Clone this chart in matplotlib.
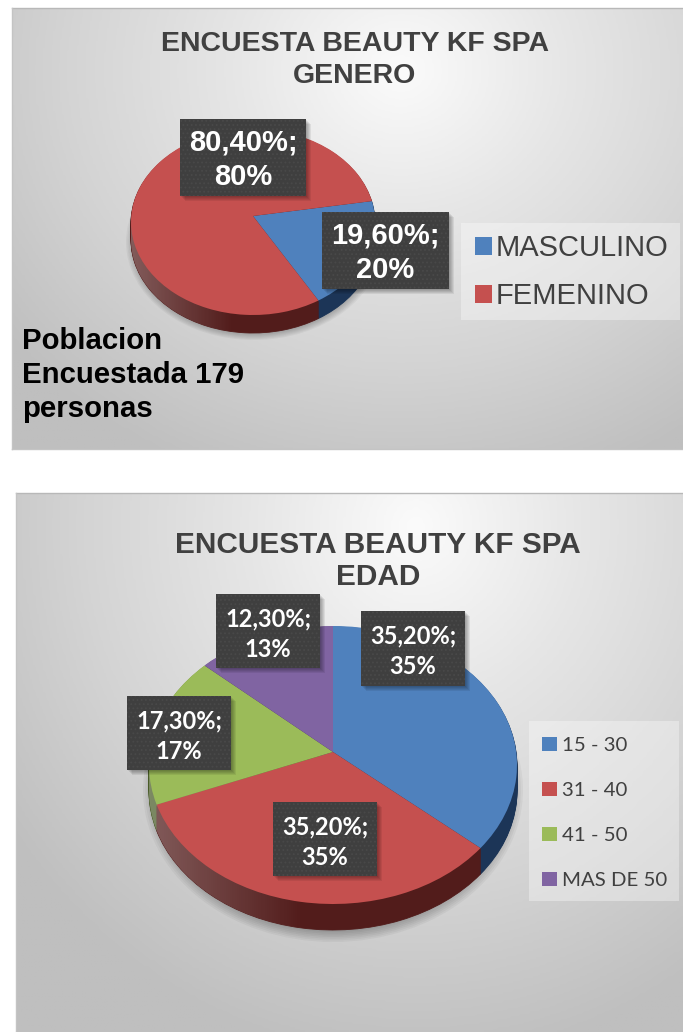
import numpy as np
import matplotlib
matplotlib.use('Agg')
import matplotlib.pyplot as plt
from matplotlib.patches import Rectangle, Ellipse, Polygon
from matplotlib.colors import LinearSegmentedColormap

W, H = 683, 1032

#chart data
genero_cats = ['MASCULINO', 'FEMENINO']
genero_vals = [19.6, 80.4]
genero_labels = ['19,60%;\n20%', '80,40%;\n80%']
edad_cats = ['15 - 30', '31 - 40', '41 - 50', 'MAS DE 50']
edad_vals = [35.2, 35.2, 17.3, 12.3]
edad_labels = ['35,20%;\n35%', '35,20%;\n35%', '17,30%;\n17%', '12,30%;\n13%']
top_colors = ['#4f81bd', '#c5504f', '#9bbb59', '#8064a2']
side_colors = ['#1c3557', '#521c1b', '#4a5c28', '#3e2f52']
title_main = 'ENCUESTA BEAUTY KF SPA'
nota = 'Poblacion\nEncuestada 179\npersonas'

plt.rcParams['hatch.linewidth'] = 0.8
fig = plt.figure(figsize=(W/100, H/100), dpi=100, facecolor='white')

def px_axes(z):
    a = fig.add_axes([0, 0, 1, 1], zorder=z, facecolor='none')
    a.set_xlim(0, W)
    a.set_ylim(H, 0)
    a.axis('off')
    return a

back = px_axes(0)
front = px_axes(5)

#panel background, lightest near the top middle
def panel(x0, x1, y0, y1, fx, fy):
    yy, xx = np.mgrid[0:1:200j, 0:1:200j]
    r = np.clip(np.hypot((xx-fx)/0.75, (yy-fy)/1.0), 0, 1)
    cm = LinearSegmentedColormap.from_list('g', ['#fbfbfb', '#e6e6e6', '#d4d4d4', '#bfbfbf'])
    back.imshow(r, extent=(x0, x1, y1, y0), cmap=cm, vmin=0, vmax=1, aspect='auto', zorder=0)
    back.plot([x0, x1], [y0, y0], color='#b8b8b8', lw=1, zorder=1)
    back.plot([x0, x0], [y0, y1], color='#c4c4c4', lw=1, zorder=1)
    back.plot([x0, x1], [y1, y1], color='#c4c4c4', lw=1, zorder=1)

panel(12, 683, 8, 449, 0.58, 0.14)
panel(16, 683, 493, 1032, 0.6, 0.06)
back.set_xlim(0, W)
back.set_ylim(H, 0)

#fake 3d pie: stacked pies for the side, real one on top
def pie3d(vals, start, cx, cy, rx, ry, depth, lift):
    pad = 4
    a = fig.add_axes([(cx-rx-pad)/W, 1-(cy+ry+depth+pad)/H, (2*rx+2*pad)/W, (2*ry+depth+2*pad)/H], zorder=2, facecolor='none')
    d_norm = depth/ry
    for d in np.linspace(d_norm, d_norm/depth, int(depth)):
        wd, _ = a.pie(vals, startangle=start, counterclock=False, colors=side_colors, center=(0, -d),
                      wedgeprops=dict(lw=0.6))
        for w, c in zip(wd, side_colors):
            w.set_edgecolor(c)
            w.set_zorder(1)
    #lighter side on the left
    t = np.linspace(np.pi, 2*np.pi, 120)
    outline = np.r_[np.c_[np.cos(t), np.sin(t)-d_norm], np.c_[np.cos(t[::-1]), -np.sin(t[::-1])*0]]
    clip = Polygon(outline, closed=True, transform=a.transData, fc='none', ec='none')
    a.add_patch(clip)
    grad = np.zeros((2, 200, 4))
    grad[..., :3] = 1
    grad[..., 3] = np.clip(0.28*(1-np.linspace(0, 1, 200)/0.42), 0, 1)
    im = a.imshow(grad, extent=(-1, 1, -1-d_norm, 1), aspect='auto', zorder=2)
    im.set_clip_path(clip)
    wedges, _ = a.pie(vals, startangle=start, counterclock=False, colors=top_colors, wedgeprops=dict(lw=0))
    for w in wedges:
        w.set_zorder(3)
        p = w.get_path()
        v = p.vertices.copy()
        v[np.hypot(v[:, 0], v[:, 1]) < 1e-6, 1] += lift/ry
        p.vertices = v
    a.set_aspect('auto')
    a.set_xlim(-1-pad/rx, 1+pad/rx)
    a.set_ylim(-1-d_norm-pad/ry, 1+pad/ry)
    return a, wedges

def soft_shadow(cx, cy, rx, ry):
    for k in np.linspace(1.0, 0.88, 12):
        back.add_patch(Ellipse((cx, cy), 2*rx*k, 2*ry*k, fc='black', ec='none', alpha=0.04, zorder=2))

def label_box(x0, y0, x1, y1, txt, fam, size, ls, dy):
    for s in range(1, 6):
        front.add_patch(Rectangle((x0+s, y0+s), x1-x0, y1-y0, fc='black', ec='none', alpha=0.07))
    front.add_patch(Rectangle((x0, y0), x1-x0, y1-y0, fc='#3f3f3f', ec='#494949', lw=0, hatch='....'))
    front.text((x0+x1)/2, (y0+y1)/2+dy, txt, color='white', fontsize=size, fontweight='bold', family=fam,
               ha='center', va='center', linespacing=ls)

def legend_box(a, wedges, cats, x0, y0, x1, y1, hx, yc, fam, size, hl, spacing, tpad):
    back.add_patch(Rectangle((x0, y0), x1-x0, y1-y0, fc='white', ec='none', alpha=0.35, zorder=2))
    a.legend(wedges, cats, loc='center left', bbox_to_anchor=(hx, yc), bbox_transform=front.transData,
             frameon=False, prop=dict(family=fam, size=size), labelcolor='#404040', handlelength=hl,
             handleheight=hl, labelspacing=spacing, handletextpad=tpad, borderpad=0, borderaxespad=0)

#--- GENERO ---
soft_shadow(254, 242, 128, 98)
ax1, w1 = pie3d(genero_vals, 13, 253, 222, 122, 93, 18, 6)
back.text(355, 60, title_main + '\nGENERO', fontsize=20.5, fontweight='bold', family='Liberation Sans', color='#404040',
          ha='center', va='center', linespacing=1.28, zorder=3)
label_box(180, 119, 306, 196, genero_labels[1], 'Liberation Sans', 21, 1.3, 2)
label_box(322, 212, 449, 289, genero_labels[0], 'Liberation Sans', 21, 1.3, 2)
legend_box(ax1, w1, genero_cats, 461, 223, 680, 320, 475, 272, 'Liberation Sans', 21, 0.57, 0.68, 0.14)
front.text(22, 375, nota, fontsize=21.2, fontweight='bold', family='Liberation Sans', color='black',
           ha='left', va='center', linespacing=1.27)

#--- EDAD ---
soft_shadow(333, 790, 190, 152)
ax2, w2 = pie3d(edad_vals, 90, 333, 765, 184, 139, 26, 13)
back.text(378, 561, title_main + '\nEDAD', fontsize=21.4, fontweight='bold', family='Liberation Sans', color='#404040',
          ha='center', va='center', linespacing=1.2, zorder=3)
label_box(361, 611, 465, 686, edad_labels[0], 'Lato', 17, 1.4, 3)
label_box(273, 802, 377, 876, edad_labels[1], 'Lato', 17, 1.4, 3)
label_box(127, 696, 231, 770, edad_labels[2], 'Lato', 17, 1.4, 3)
label_box(216, 594, 320, 668, edad_labels[3], 'Lato', 17, 1.4, 3)
legend_box(ax2, w2, edad_cats, 529, 721, 679, 901, 542, 813, 'Lato', 14.7, 0.72, 1.35, 0.25)

fig.savefig('out.png', dpi=100)
